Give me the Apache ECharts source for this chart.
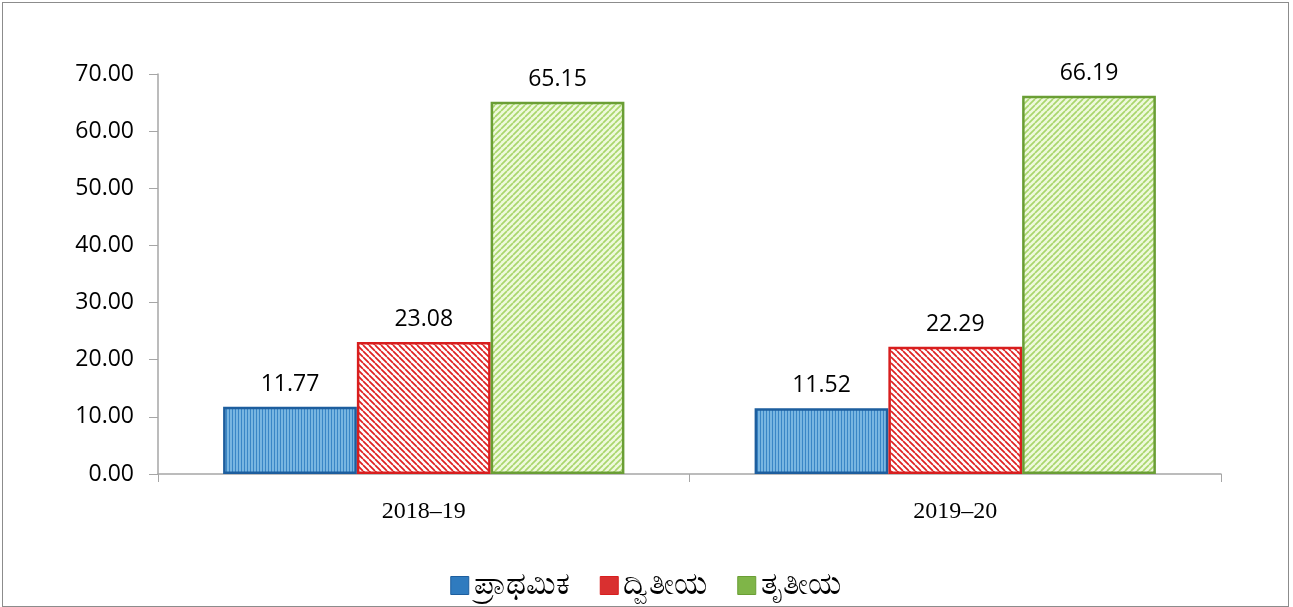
<!DOCTYPE html>
<html>
<head>
<meta charset="utf-8">
<script src="https://cdn.jsdelivr.net/npm/echarts@6/dist/echarts.min.js"></script>
<style>
  html, body { margin: 0; padding: 0; background: #fff; }
  #chart { box-sizing: border-box; border: 1px solid #8c8c8c; margin: 2px 0 0 2px; width: 1287px; height: 605px; }
</style>
</head>
<body>
<div id="chart"></div>
<script>
// data
var years = ['2018\u201319', '2019\u201320'];
var seriesNames = ['ಪ್ರಾಥಮಿಕ', 'ದ್ವಿತೀಯ', 'ತೃತೀಯ'];
var primary = [11.77, 11.52];
var secondary = [23.08, 22.29];
var tertiary = [65.15, 66.19];

// striped fills
function stripes(bg, fg, kind) {
    var c = document.createElement('canvas');
    c.width = 6; c.height = 6;
    var ctx = c.getContext('2d');
    ctx.fillStyle = bg;
    ctx.fillRect(0, 0, 6, 6);
    ctx.strokeStyle = fg;
    ctx.lineWidth = 1.7;
    ctx.beginPath();
    if (kind === 'v') {
        ctx.moveTo(1.5, 0); ctx.lineTo(1.5, 6);
        ctx.moveTo(4.5, 0); ctx.lineTo(4.5, 6);
    } else if (kind === 'back') {
        for (var i = -6; i <= 12; i += 6) { ctx.moveTo(i, 0); ctx.lineTo(i + 6, 6); }
    } else {
        for (var j = -6; j <= 12; j += 6) { ctx.moveTo(j, 6); ctx.lineTo(j + 6, 0); }
    }
    ctx.stroke();
    return { image: c, repeat: 'repeat' };
}

var fills = [
    stripes('#9bcff0', '#3a86c6', 'v'),
    stripes('#ffffff', '#df2222', 'back'),
    stripes('#eef9dc', '#a9d66c', 'fwd')
];
var borders = ['#1d5e9e', '#d81e1e', '#6a9e35'];
var legendColors = ['#2f7bbf', '#d93030', '#7fb548'];
var values = [primary, secondary, tertiary];

var chart = echarts.init(document.getElementById('chart'));

var series = [];
for (var k = 0; k < 3; k++) {
    series.push({
        name: seriesNames[k],
        type: 'bar',
        data: values[k],
        barGap: '0%',
        barCategoryGap: '24.5%',
        itemStyle: { color: fills[k], borderColor: borders[k], borderWidth: 2.5 },
        label: {
            show: true, position: 'top', distance: 11,
            formatter: function(p) { return p.value.toFixed(2); },
            fontFamily: 'Open Sans', fontSize: 23, color: '#000'
        }
    });
}

chart.setOption({
    animation: false,
    color: legendColors,
    grid: { left: 155, top: 71, width: 1063, height: 400, containLabel: false },
    legend: {
        bottom: 0, left: 'center', itemWidth: 18, itemHeight: 18, itemGap: 30,
        icon: 'rect',
        textStyle: { fontSize: 31, color: '#000', fontFamily: 'Noto Sans, sans-serif' },
        data: seriesNames.map(function(n, i) { return { name: n, itemStyle: { color: legendColors[i], borderColor: borders[i], borderWidth: 1 } }; })
    },
    xAxis: {
        type: 'category', data: years,
        axisLine: { lineStyle: { color: '#a6a6a6', width: 1.5 } },
        axisTick: { show: true, length: 8, lineStyle: { color: '#a6a6a6' } },
        axisLabel: { margin: 26, fontFamily: 'Liberation Serif', fontSize: 24, color: '#000' }
    },
    yAxis: {
        type: 'value', min: 0, max: 70, interval: 10,
        axisLine: { show: true, lineStyle: { color: '#a6a6a6', width: 1.5 } },
        axisTick: { show: true, length: 9, lineStyle: { color: '#a6a6a6' } },
        splitLine: { show: false },
        axisLabel: { margin: 24, fontFamily: 'Open Sans', fontSize: 23, color: '#000',
            formatter: function(v) { return v.toFixed(2); } }
    },
    series: series
});
</script>
</body>
</html>
